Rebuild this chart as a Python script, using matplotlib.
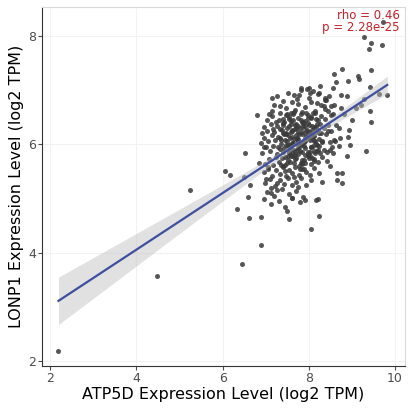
import numpy as np
import matplotlib.pyplot as plt

# scattered / outlying samples (ATP5D, LONP1)
out_x = [2.19, 4.47, 5.25, 6.45, 6.90, 6.05, 6.18, 6.33, 6.51, 6.60, 6.59, 6.49, 6.64, 6.88,
         6.79, 7.50, 7.53, 8.06, 8.24, 8.17, 8.21, 7.80, 7.90, 7.13, 6.97, 9.32, 9.44, 9.42,
         9.42, 9.44, 9.28, 9.45, 9.40, 9.69, 9.71, 9.82, 9.63, 9.13, 9.17, 8.92, 8.78, 8.59,
         8.63, 8.55, 9.29, 9.21, 9.01, 8.96, 8.88, 8.76, 8.76, 8.65, 8.65, 8.94, 8.82, 8.75,
         8.59, 8.88, 8.75, 9.09, 8.90, 8.71, 8.72, 8.71, 8.55, 7.82, 7.78, 8.00, 8.03, 8.24,
         8.38, 8.47]
out_y = [2.18, 3.56, 5.16, 3.79, 4.14, 5.50, 5.44, 4.80, 5.83, 4.63, 5.03, 5.40, 5.25, 4.65,
         6.54, 4.76, 4.62, 4.43, 4.68, 4.97, 4.98, 4.94, 4.97, 4.89, 4.98, 5.88, 6.40, 6.62,
         7.06, 7.36, 7.97, 7.86, 7.75, 7.82, 8.25, 6.90, 6.92, 7.25, 7.20, 7.16, 7.39, 7.30,
         7.14, 7.03, 6.83, 6.73, 6.45, 5.98, 5.79, 5.46, 5.29, 5.33, 5.46, 6.26, 6.55, 6.66,
         6.73, 6.88, 6.91, 6.66, 6.14, 6.30, 6.11, 5.96, 5.83, 7.03, 6.91, 7.03, 6.95, 6.94,
         6.82, 6.88]

# dense core of the cloud, estimated band by band (top band first)
core_x = [7.25, 7.52, 7.73, 7.81, 8.00, 8.22, 8.40, 7.65,
          7.15, 7.32, 7.48, 7.60, 7.68, 7.76, 7.91, 8.05, 8.14, 8.28, 8.37, 8.51, 7.40, 7.84, 8.20,
          7.03, 7.15, 7.24, 7.33, 7.40, 7.49, 7.58, 7.66, 7.74, 7.82, 7.91, 7.98, 8.06, 8.14, 8.22,
          8.29, 8.38, 8.51, 7.53, 7.87, 8.10, 7.30,
          6.95, 7.04, 7.12, 7.20, 7.27, 7.33, 7.41, 7.47, 7.55, 7.62, 7.68, 7.74, 7.80, 7.87, 7.94,
          8.00, 8.07, 8.13, 8.20, 8.28, 8.36, 8.44, 8.52, 7.37, 7.58, 7.71, 7.90, 8.16, 7.16, 7.84,
          6.88, 6.97, 7.06, 7.14, 7.21, 7.29, 7.36, 7.43, 7.50, 7.57, 7.63, 7.70, 7.76, 7.83, 7.89,
          7.96, 8.03, 8.10, 8.16, 8.23, 8.31, 8.39, 8.48, 8.58, 7.32, 7.52, 7.66, 7.80, 7.98, 8.12,
          7.45, 7.73, 7.93,
          6.92, 7.01, 7.09, 7.17, 7.25, 7.32, 7.39, 7.46, 7.53, 7.59, 7.66, 7.72, 7.79, 7.85, 7.92,
          7.99, 8.06, 8.12, 8.19, 8.27, 8.35, 8.43, 8.53, 7.42, 7.62, 7.75, 7.88, 8.02, 8.22, 7.28,
          7.56,
          6.99, 7.08, 7.16, 7.24, 7.31, 7.38, 7.45, 7.52, 7.58, 7.65, 7.71, 7.78, 7.84, 7.91, 7.98,
          8.05, 8.13, 8.22, 8.31, 8.42, 7.35, 7.62, 7.81, 8.08, 7.49,
          6.97, 7.06, 7.15, 7.23, 7.32, 7.40, 7.48, 7.55, 7.62, 7.69, 7.77, 7.85, 7.93, 8.02, 8.12,
          8.24, 7.44, 7.66, 7.88,
          6.98, 7.09, 7.21, 7.32, 7.43, 7.52, 7.61, 7.71, 7.82, 7.94, 8.06, 7.26, 7.76,
          7.03, 7.20, 7.37, 7.53, 7.70, 7.87, 7.12, 7.62]
core_y = [6.88, 6.95, 6.83, 6.99, 6.86, 6.92, 6.81, 6.90,
          6.62, 6.71, 6.66, 6.78, 6.63, 6.74, 6.69, 6.77, 6.61, 6.72, 6.65, 6.70, 6.79, 6.60, 6.76,
          6.45, 6.52, 6.41, 6.58, 6.47, 6.55, 6.43, 6.59, 6.49, 6.56, 6.42, 6.53, 6.48, 6.57, 6.44,
          6.51, 6.46, 6.54, 6.50, 6.40, 6.58, 6.44,
          6.31, 6.24, 6.37, 6.22, 6.34, 6.28, 6.39, 6.21, 6.33, 6.26, 6.36, 6.23, 6.30, 6.38, 6.25,
          6.35, 6.27, 6.32, 6.38, 6.21, 6.29, 6.35, 6.24, 6.26, 6.37, 6.29, 6.33, 6.23, 6.28, 6.22,
          6.02, 6.11, 6.05, 6.17, 6.08, 6.14, 6.01, 6.19, 6.06, 6.12, 6.03, 6.16, 6.09, 6.18, 6.04,
          6.13, 6.07, 6.15, 6.01, 6.10, 6.06, 6.19, 6.04, 6.08, 6.12, 6.17, 6.09, 6.02, 6.14, 6.05,
          6.07, 6.11, 6.16,
          5.83, 5.94, 5.88, 5.97, 5.81, 5.91, 5.86, 5.98, 5.84, 5.93, 5.80, 5.89, 5.96, 5.85, 5.92,
          5.82, 5.95, 5.87, 5.99, 5.83, 5.90, 5.86, 5.94, 5.92, 5.88, 5.81, 5.97, 5.85, 5.89, 5.95,
          5.99,
          5.64, 5.73, 5.61, 5.77, 5.68, 5.75, 5.62, 5.70, 5.79, 5.65, 5.74, 5.60, 5.71, 5.66, 5.78,
          5.63, 5.72, 5.67, 5.76, 5.69, 5.61, 5.78, 5.65, 5.74, 5.66,
          5.48, 5.57, 5.42, 5.53, 5.45, 5.59, 5.41, 5.52, 5.46, 5.58, 5.44, 5.55, 5.49, 5.43, 5.56,
          5.47, 5.51, 5.40, 5.54,
          5.28, 5.36, 5.22, 5.33, 5.26, 5.38, 5.24, 5.31, 5.37, 5.25, 5.34, 5.29, 5.21,
          5.12, 5.05, 5.17, 5.08, 5.14, 5.03, 5.19, 5.01]

# extra samples in the darkest middle of the cloud
mid_x = [7.40, 7.47, 7.55, 7.61, 7.68, 7.75, 7.83, 7.91, 7.99, 8.07, 8.15, 8.24,
         7.44, 7.52, 7.60, 7.67, 7.73, 7.81, 7.88, 7.96, 8.04, 8.11, 8.19, 8.27,
         7.36, 7.43, 7.51, 7.58, 7.64, 7.72, 7.79, 7.86, 7.93, 8.01, 8.08, 8.16,
         8.23, 8.30, 7.49, 7.57, 7.65, 7.70, 7.78, 7.85, 7.92, 8.00, 8.06, 8.14,
         7.39, 7.46, 7.54, 7.62, 7.69, 7.76, 7.84, 7.90, 7.97, 8.05, 8.13, 8.21,
         7.41, 7.53, 7.63, 7.74, 7.85, 7.95, 8.03, 8.17, 7.58, 7.79, 7.99, 8.09]
mid_y = [6.35, 6.18, 6.47, 6.02, 6.28, 5.92, 6.40, 6.12, 5.85, 6.33, 6.05, 6.21,
         5.76, 5.98, 6.25, 5.82, 6.09, 6.44, 5.71, 6.27, 5.95, 6.15, 5.88, 6.38,
         6.08, 6.41, 5.79, 6.22, 6.55, 6.00, 5.87, 6.31, 6.57, 5.74, 6.11, 6.46,
         5.96, 6.04, 6.30, 5.68, 5.90, 6.37, 6.19, 5.63, 6.06, 6.23, 6.50, 5.83,
         5.58, 6.53, 5.94, 6.13, 5.73, 6.34, 6.01, 5.80, 6.39, 6.17, 5.69, 6.27,
         6.20, 5.86, 6.45, 6.06, 5.66, 6.14, 5.79, 6.32, 6.58, 5.55, 6.48, 5.97]

# looser ring around the cloud
ring_x = [6.85, 6.92, 7.00, 7.08, 7.12, 7.20, 8.45, 8.50, 8.38, 8.56, 8.62, 8.48, 7.30,
          7.45, 7.60, 7.95, 8.10, 8.25, 7.05, 7.25, 8.35, 8.60, 6.95, 7.15, 8.30, 8.44]
ring_y = [5.65, 6.20, 5.35, 6.55, 5.10, 6.72, 6.25, 5.90, 6.85, 6.55, 6.35, 5.60, 4.95,
          4.85, 5.00, 7.02, 6.98, 7.08, 5.55, 5.15, 6.70, 6.05, 5.95, 6.85, 5.30, 6.62]

rho_text = "rho = 0.46\np = 2.28e-25"

x = np.array(out_x + core_x + mid_x + ring_x)
y = np.array(out_y + core_y + mid_y + ring_y)

# linear fit + 95% confidence band
n = len(x)
b, a = np.polyfit(x, y, 1)
xs = np.linspace(x.min(), x.max(), 100)
ys = a + b * xs
resid = y - (a + b * x)
s = np.sqrt(np.sum(resid ** 2) / (n - 2))
se = s * np.sqrt(1 / n + (xs - x.mean()) ** 2 / np.sum((x - x.mean()) ** 2))
ci = 1.97 * se

fig = plt.figure(figsize=(4.09, 4.08), dpi=100)
ax = fig.add_axes([0.103, 0.103, 0.887, 0.880])

ax.grid(True, color='#f2f2f2', lw=0.8)
ax.set_axisbelow(True)
ax.scatter(x, y, s=13, color='#3a3a3a', alpha=0.85, lw=0, zorder=2)
ax.fill_between(xs, ys - ci, ys + ci, color='#bdbdbd', alpha=0.45, lw=0, zorder=3)
ax.plot(xs, ys, color='#3f4f9f', lw=1.6, zorder=4)

ax.text(0.985, 0.995, rho_text, transform=ax.transAxes, ha='right', va='top',
        color='#c8202a', fontsize=8.5, linespacing=0.95)

ax.set_xlim(1.81, 10.23)
ax.set_ylim(1.91, 8.53)
ax.set_xticks([2, 4, 6, 8, 10])
ax.set_yticks([2, 4, 6, 8])
ax.tick_params(colors='#4d4d4d', labelsize=9, length=3, width=0.8, pad=1.5)
ax.set_xlabel("ATP5D Expression Level (log2 TPM)", fontsize=11.5, labelpad=1)
ax.set_ylabel("LONP1 Expression Level (log2 TPM)", fontsize=11.5, labelpad=3)
for sp in ['left', 'bottom']:
    ax.spines[sp].set_color('#333333')
for sp in ['top', 'right']:
    ax.spines[sp].set_color('#d9d9d9')

fig.savefig('out.png', dpi=100)
